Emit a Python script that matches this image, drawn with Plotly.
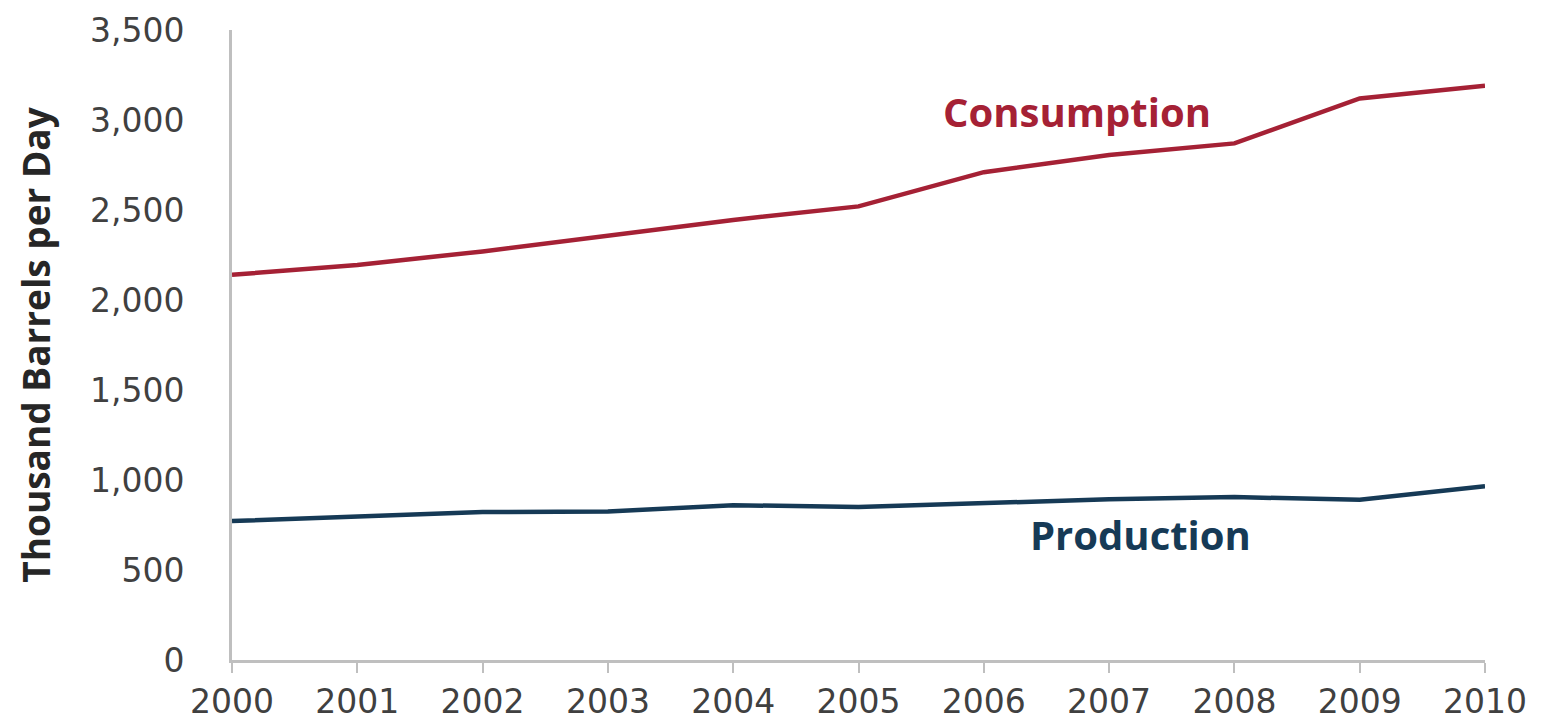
import plotly.graph_objects as go

years = [2000, 2001, 2002, 2003, 2004, 2005, 2006, 2007, 2008, 2009, 2010]
consumption = [2140, 2195, 2270, 2360, 2445, 2520, 2710, 2805, 2870, 3120, 3190]
production = [772, 795, 822, 825, 860, 850, 872, 893, 905, 890, 965]
y_ticks = [0, 500, 1000, 1500, 2000, 2500, 3000, 3500]

cons_color = "#A52135"
prod_color = "#163A56"

fig = go.Figure()
fig.add_trace(go.Scatter(x=years, y=consumption, mode="lines",
                         line=dict(color=cons_color, width=4.5), name="Consumption"))
fig.add_trace(go.Scatter(x=years, y=production, mode="lines",
                         line=dict(color=prod_color, width=4.5), name="Production"))

fig.add_annotation(x=2006.74, y=3045, text="<b>Consumption</b>", showarrow=False,
                   font=dict(family="Open Sans", size=40, color=cons_color))
fig.add_annotation(x=2007.25, y=700, text="<b>Production</b>", showarrow=False,
                   font=dict(family="Open Sans", size=40, color=prod_color))

fig.update_layout(
    width=1541, height=726,
    margin=dict(l=224, r=64, t=22, b=74),
    plot_bgcolor="white", paper_bgcolor="white",
    showlegend=False,
    font=dict(family="DejaVu Sans", color="#404040"),
)
fig.update_xaxes(range=[2000, 2010], tickvals=years, ticktext=[str(y) for y in years],
                 automargin=False,
                 showgrid=False, zeroline=False, showline=True, linecolor="#BFBFBF",
                 linewidth=3, ticks="outside", ticklen=10, tickcolor="#BFBFBF",
                 tickwidth=2, tickfont=dict(size=33, color="#404040"))
fig.update_yaxes(range=[0, 3500], tickvals=y_ticks, tickformat=",",
                 automargin=False,
                 showgrid=False, zeroline=False, showline=True, linecolor="#BFBFBF",
                 linewidth=3, ticks="outside", ticklen=38, tickcolor="white",
                 tickfont=dict(size=33, color="#404040"),
                 title=dict(text="<b>Thousand Barrels per Day</b>", standoff=28,
                            font=dict(family="Open Sans", size=37, color="#262626")))

fig.write_html("out.html")
